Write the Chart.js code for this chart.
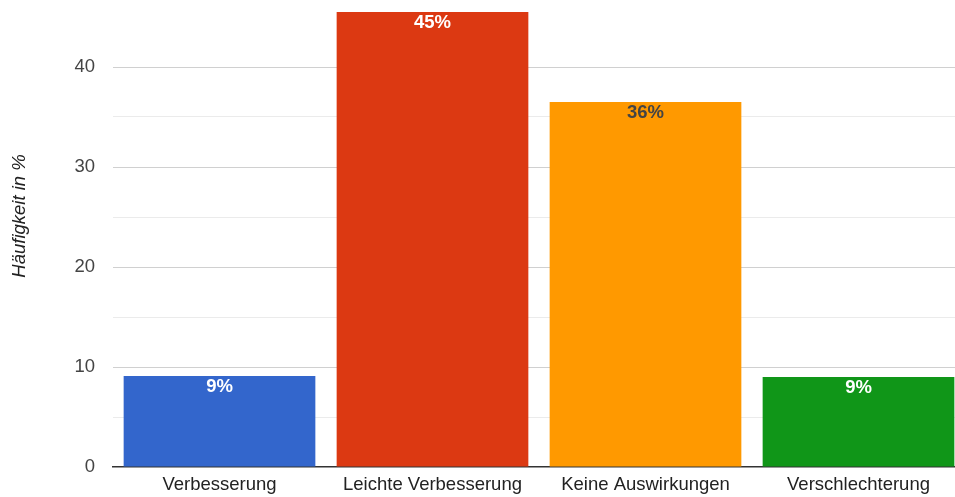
<!DOCTYPE html>
<html>
<head>
<meta charset="utf-8">
<script src="https://cdn.jsdelivr.net/npm/chart.js@4"></script>
<style>
  html, body { margin: 0; padding: 0; background: #fff; }
  #wrap { width: 955px; height: 497px; overflow: hidden; position: relative; }
  #myChart { position: absolute; left: 0; top: 0; }
</style>
</head>
<body>
<div id="wrap"><canvas id="myChart" width="965" height="497"></canvas></div>
<script>
// Daten
const categories = ["Verbesserung", "Leichte Verbesserung", "Keine Auswirkungen", "Verschlechterung"];
const values = [9.1, 45.5, 36.5, 9.0];
const valueLabels = ["9%", "45%", "36%", "9%"];
const barColors = ["#3366cc", "#dc3912", "#ff9900", "#109618"];
const labelColors = ["#ffffff", "#ffffff", "#444444", "#ffffff"];
const yTitle = "Häufigkeit in %";
const FONT = "'Liberation Sans', Arial, sans-serif";

// Prozent-Beschriftung oben in den Balken + Achsentitel
const barLabels = {
  id: "barLabels",
  afterDatasetsDraw(chart) {
    const ctx = chart.ctx;
    const meta = chart.getDatasetMeta(0);
    ctx.save();
    ctx.font = "bold 18.5px " + FONT;
    ctx.textAlign = "center";
    ctx.textBaseline = "middle";
    meta.data.forEach((bar, i) => {
      ctx.fillStyle = labelColors[i];
      ctx.fillText(valueLabels[i], bar.x, bar.y + 11);
    });
    ctx.restore();

    // y-Titel
    ctx.save();
    ctx.translate(20, 216);
    ctx.rotate(-Math.PI / 2);
    ctx.font = "italic 18.5px " + FONT;
    ctx.fillStyle = "#222222";
    ctx.textAlign = "center";
    ctx.textBaseline = "middle";
    ctx.fillText(yTitle, 0, 0);
    ctx.restore();
  }
};

const ctx = document.getElementById("myChart").getContext("2d");
const chart = new Chart(ctx, {
  type: "bar",
  data: {
    labels: categories,
    datasets: [{
      data: values,
      backgroundColor: barColors,
      borderWidth: 0,
      barPercentage: 0.9,
      categoryPercentage: 1
    }]
  },
  options: {
    responsive: false,
    animation: false,
    layout: { autoPadding: false, padding: { top: 7, right: 0, left: 0, bottom: 0 } },
    plugins: { legend: { display: false }, tooltip: { enabled: false } },
    scales: {
      x: {
        grid: { display: false, drawTicks: false },
        border: { color: "#333333", width: 1.5 },
        ticks: {
          color: "#222222",
          padding: 7,
          maxRotation: 0,
          font: { family: FONT, size: 18.5 }
        },
        afterFit: s => {
          s.height = 30;
          s.paddingLeft = 0; s.paddingRight = 0;
        }
      },
      y: {
        min: 0,
        max: 46,
        border: { display: false },
        grid: {
          drawTicks: false,
          color: c => {
            const v = c.tick.value;
            if (v === 0 || v === 46) return "rgba(0,0,0,0)";
            return v % 10 === 0 ? "#d0d0d0" : "#ebebeb";
          }
        },
        ticks: {
          stepSize: 5,
          color: "#444444",
          padding: 18,
          font: { family: FONT, size: 18.5 },
          callback: v => (v % 10 === 0 ? v : "")
        },
        afterFit: s => {
          s.width = 113;
          s.paddingTop = 0; s.paddingBottom = 0;
        }
      }
    }
  },
  plugins: [barLabels]
});
</script>
</body>
</html>
